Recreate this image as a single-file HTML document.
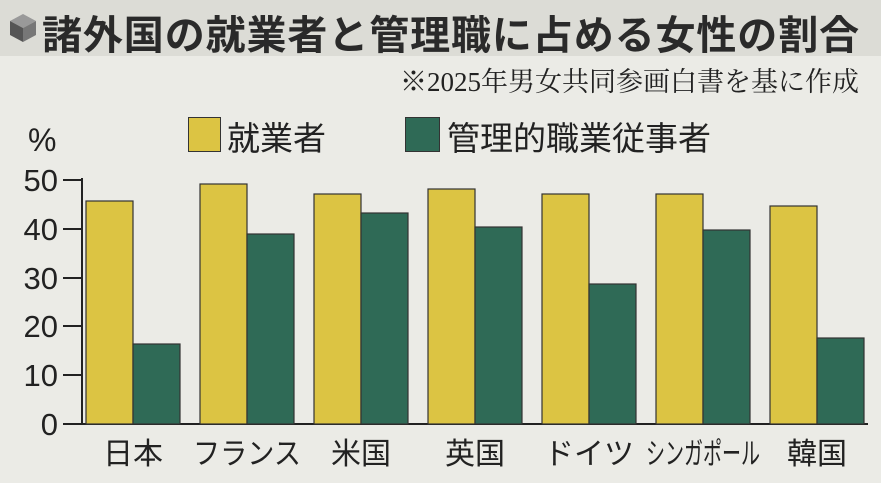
<!DOCTYPE html>
<html><head><meta charset="utf-8"><style>
body{margin:0;width:881px;height:483px;background:#ebebe6;overflow:hidden;position:relative;font-family:"Liberation Sans","Noto Sans CJK JP",sans-serif;color:#222}
.a{position:absolute;white-space:nowrap}
</style></head><body>
<div class="a" style="left:0;top:0;width:881px;height:56px;background:#dcdcd6"></div>
<svg class="a" style="left:8px;top:12px" width="30" height="32" viewBox="0 0 30 32"><polygon points="15,2 28,9 15,16 2,9" fill="#999"/><polygon points="2,9 15,16 15,30 2,23" fill="#555"/><polygon points="28,9 15,16 15,30 28,23" fill="#777"/></svg>
<div class="a" style="left:42px;top:3px;font-size:40px;font-weight:bold;color:#2a2a2a;letter-spacing:0.9px">諸外国の就業者と管理職に占める女性の割合</div>
<div class="a" style="right:22px;top:60px;font-size:27px;font-family:'Liberation Serif','Noto Serif CJK SC',serif">※2025年男女共同参画白書を基に作成</div>
<div class="a" style="left:188px;top:117px;width:33px;height:35px;background:#dcc443;border:1.5px solid #333;box-sizing:border-box"></div>
<div class="a" style="left:227px;top:112px;font-size:33px">就業者</div>
<div class="a" style="left:405px;top:117px;width:35px;height:35px;background:#2f6a56;border:1.5px solid #333;box-sizing:border-box"></div>
<div class="a" style="left:447px;top:112px;font-size:33px">管理的職業従事者</div>
<div class="a" style="left:28px;top:122px;font-size:32px">%</div>
<svg class="a" style="left:0;top:0" width="881" height="483">
<g font-size="31" text-anchor="end" fill="#222" font-family="Liberation Sans, sans-serif">
<text x="58" y="191">50</text><text x="58" y="240">40</text><text x="58" y="289">30</text><text x="58" y="337">20</text><text x="58" y="386">10</text><text x="58" y="435">0</text></g>
<g stroke="#222" stroke-width="2">
<line x1="82" y1="178" x2="82" y2="425"/>
<line x1="63" y1="180" x2="82" y2="180"/><line x1="63" y1="229" x2="82" y2="229"/><line x1="63" y1="278" x2="82" y2="278"/><line x1="63" y1="326" x2="82" y2="326"/><line x1="63" y1="375" x2="82" y2="375"/><line x1="63" y1="424" x2="82" y2="424"/>
<line x1="82" y1="424" x2="868" y2="424"/>
</g>
<g stroke="#333" stroke-width="1.2">
<rect x="86" y="201" width="47" height="223" fill="#dcc443"/><rect x="133" y="344" width="47" height="80" fill="#2f6a56"/>
<rect x="200" y="184" width="47" height="240" fill="#dcc443"/><rect x="247" y="234" width="47" height="190" fill="#2f6a56"/>
<rect x="314" y="194" width="47" height="230" fill="#dcc443"/><rect x="361" y="213" width="47" height="211" fill="#2f6a56"/>
<rect x="428" y="189" width="47" height="235" fill="#dcc443"/><rect x="475" y="227" width="47" height="197" fill="#2f6a56"/>
<rect x="542" y="194" width="47" height="230" fill="#dcc443"/><rect x="589" y="284" width="47" height="140" fill="#2f6a56"/>
<rect x="656" y="194" width="47" height="230" fill="#dcc443"/><rect x="703" y="230" width="47" height="194" fill="#2f6a56"/>
<rect x="770" y="206" width="47" height="218" fill="#dcc443"/><rect x="817" y="338" width="47" height="86" fill="#2f6a56"/>
</g>
<g font-size="30" text-anchor="middle" fill="#222" font-family="Liberation Sans, Noto Sans CJK JP, sans-serif">
<text x="133" y="464">日本</text><text x="247" y="464" textLength="108" lengthAdjust="spacingAndGlyphs">フランス</text><text x="361" y="464">米国</text><text x="475" y="464">英国</text><text x="589" y="464">ドイツ</text><text x="703" y="464" textLength="114" lengthAdjust="spacingAndGlyphs">シンガポール</text><text x="817" y="464">韓国</text></g>
</svg>
</body></html>
